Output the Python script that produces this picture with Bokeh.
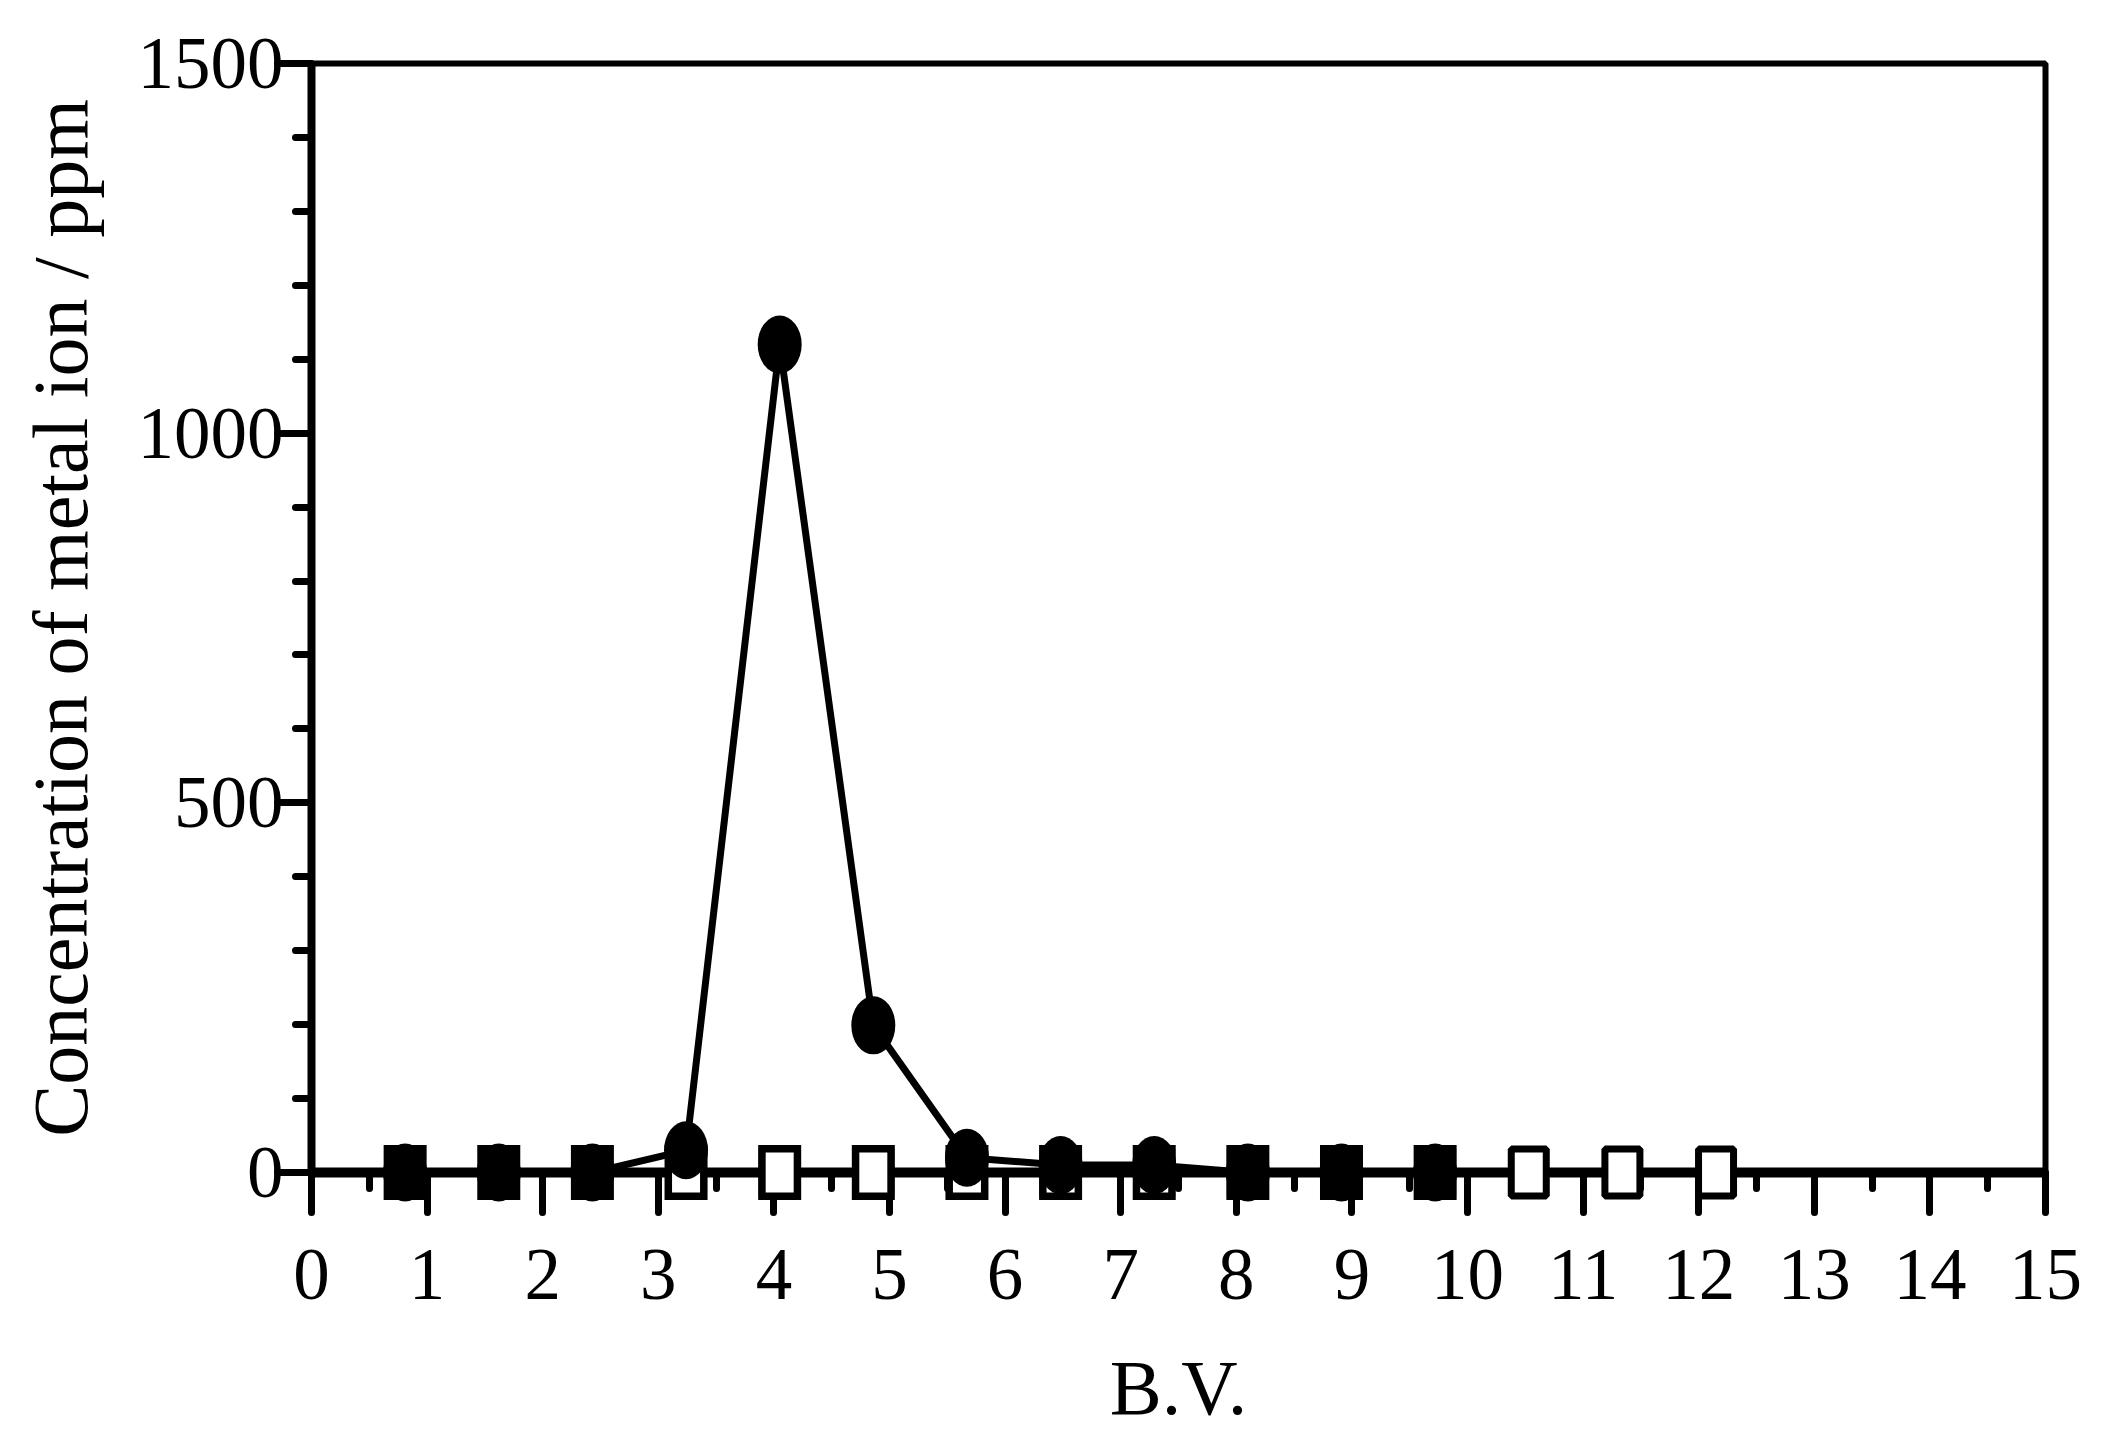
from bokeh.plotting import figure
from bokeh.models import FixedTicker, Range1d
from bokeh.embed import file_html
from bokeh.resources import INLINE

# ---- data ----
bv_circle = [0.81, 1.62, 2.43, 3.24, 4.05, 4.86, 5.67, 6.48, 7.29, 8.10, 8.91, 9.72]
conc_circle = [0, 0, 0, 30, 1120, 199, 20, 10, 10, 0, 0, 0]

bv_filled_sq = [0.81, 1.62, 2.43, 3.24, 4.05, 4.86, 5.67, 6.48, 7.29, 8.10, 8.91, 9.72]
conc_filled_sq = [0, 0, 0, 0, 0, 0, 0, 0, 0, 0, 0, 0]

bv_open_sq = [3.24, 4.05, 4.86, 5.67, 6.48, 7.29, 8.10, 8.91, 9.72, 10.53, 11.34, 12.15]
conc_open_sq = [0, 0, 0, 0, 0, 0, 0, 0, 0, 0, 0, 0]

x_ticks = list(range(0, 16))
x_minor = [i + 0.5 for i in range(0, 15)]
y_ticks = [0, 500, 1000, 1500]
y_minor = [100, 200, 300, 400, 600, 700, 800, 900, 1100, 1200, 1300, 1400]

FONT = "Liberation Serif"

p = figure(frame_width=1734, frame_height=1109, output_backend="svg", toolbar_location=None,
           x_range=Range1d(0, 15), y_range=Range1d(0, 1500),
           min_border_left=311, min_border_top=63, min_border_right=42, min_border_bottom=255)
p.background_fill_color = "white"
p.border_fill_color = "white"
p.grid.visible = False
p.outline_line_color = "black"
p.outline_line_width = 6

# series lines
p.line(bv_filled_sq, conc_filled_sq, line_color="black", line_width=7)
p.line(bv_open_sq, conc_open_sq, line_color="black", line_width=7)
p.line(bv_circle, conc_circle, line_color="black", line_width=7, line_join="round")

# markers
p.rect(bv_filled_sq, conc_filled_sq, width=43, height=55, width_units="screen",
       height_units="screen", fill_color="black", line_color=None, level="overlay")
p.rect(bv_open_sq, conc_open_sq, width=35, height=47, width_units="screen",
       height_units="screen", fill_color="white", line_color="black", line_width=7,
       level="overlay")
p.ellipse(bv_circle, conc_circle, width=44, height=58, width_units="screen",
          height_units="screen", fill_color="black", line_color=None, level="overlay")

# axes
xa = p.xaxis[0]
xa.ticker = FixedTicker(ticks=x_ticks, minor_ticks=x_minor)
xa.axis_label = "B.V."
ya = p.yaxis[0]
ya.ticker = FixedTicker(ticks=y_ticks, minor_ticks=y_minor)
ya.axis_label = "Concentration of metal ion / ppm"

for ax in (xa, ya):
    ax.axis_line_color = "black"
    ax.major_tick_line_color = "black"
    ax.minor_tick_line_color = "black"
    ax.major_tick_line_width = 7
    ax.minor_tick_line_width = 7
    ax.major_tick_line_cap = "round"
    ax.minor_tick_line_cap = "round"
    ax.major_tick_in = 0
    ax.minor_tick_in = 0
    ax.major_label_text_font = FONT
    ax.major_label_text_font_size = "73px"
    ax.major_label_text_color = "black"
    ax.axis_label_text_font = FONT
    ax.axis_label_text_font_size = "78px"
    ax.axis_label_text_font_style = "normal"
    ax.axis_label_text_color = "black"

xa.axis_line_width = 10
xa.major_tick_out = 40
xa.minor_tick_out = 16
xa.major_label_standoff = 37
xa.axis_label_standoff = 42

ya.axis_line_width = 8
ya.major_tick_out = 34
ya.minor_tick_out = 16
ya.major_label_standoff = -6
ya.axis_label_standoff = 31

open("out.html", "w").write(file_html(p, INLINE))
